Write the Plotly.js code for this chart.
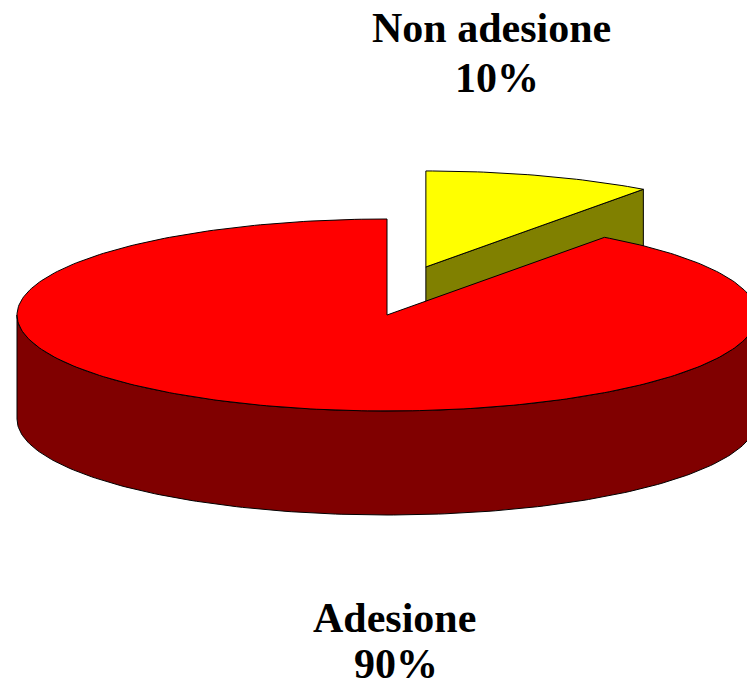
<!DOCTYPE html>
<html>
<head>
<meta charset="utf-8">
<script src="https://cdn.plot.ly/plotly-3.0.1.min.js"></script>
<style>
  html, body { margin: 0; padding: 0; background: #ffffff; }
  #chart { width: 747px; height: 690px; }
</style>
</head>
<body>
<div id="chart"></div>
<script>
// ---- data ----
const labels = ['Non adesione', 'Adesione'];
const values = [10, 90];
const pctLabels = ['10%', '90%'];
const topColors = ['#FFFF00', '#FF0000'];
const sideColors = ['#808000', '#800000'];

// ---- geometry / style (pixel space) ----
const W = 747, H = 690;
const CX = 387, CY = 315, RX = 370, RY = 96, DEPTH = 104;
const explode = [0.34, 0];   // fraction of radius along bisector
const lift = [17, 0];        // extra vertical lift (px)
const labelPos = [
  { name: [491, 27.5], pct: [497, 78] },
  { name: [394, 617.5], pct: [396, 663.5] }
];

const deg = Math.PI / 180;
function pt(a, ox, oy, dz) {
  return [CX + ox + RX * Math.sin(a * deg), CY + oy - RY * Math.cos(a * deg) + (dz || 0)];
}
function arc(a0, a1, ox, oy, dz) {
  const pts = [];
  const n = Math.max(2, Math.ceil(Math.abs(a1 - a0)));
  for (let i = 0; i <= n; i++) pts.push(pt(a0 + (a1 - a0) * i / n, ox, oy, dz));
  return pts;
}
function poly(pts, fill) {
  return {
    type: 'scatter', mode: 'lines',
    x: pts.map(p => p[0]).concat([pts[0][0]]),
    y: pts.map(p => p[1]).concat([pts[0][1]]),
    fill: 'toself', fillcolor: fill,
    line: { color: '#000000', width: 1 },
    hoverinfo: 'skip', showlegend: false
  };
}

const total = values.reduce((s, v) => s + v, 0);
let cum = 0;
const slices = values.map((v, i) => {
  const a0 = cum / total * 360;
  cum += v;
  const a1 = cum / total * 360;
  const mid = (a0 + a1) / 2;
  const ox = explode[i] * RX * Math.sin(mid * deg);
  const oy = -explode[i] * RY * Math.cos(mid * deg) - lift[i];
  return { i, a0, a1, mid, ox, oy };
});
// far slices first
slices.sort((p, q) => Math.cos(q.mid * deg) - Math.cos(p.mid * deg));

const traces = [];
slices.forEach(s => {
  const c = [CX + s.ox, CY + s.oy];
  const cb = [c[0], c[1] + DEPTH];
  // cut face at start angle
  if (Math.sin(s.a0 * deg) < -1e-9) {
    const t = pt(s.a0, s.ox, s.oy), b = pt(s.a0, s.ox, s.oy, DEPTH);
    traces.push(poly([c, t, b, cb], sideColors[s.i]));
  }
  // cut face at end angle
  if (Math.sin(s.a1 * deg) > 1e-9) {
    const t = pt(s.a1, s.ox, s.oy), b = pt(s.a1, s.ox, s.oy, DEPTH);
    traces.push(poly([c, t, b, cb], sideColors[s.i]));
  }
  // outer wall (front half)
  const w0 = Math.max(s.a0, 90), w1 = Math.min(s.a1, 270);
  if (w1 > w0) {
    const topA = arc(w0, w1, s.ox, s.oy, 0);
    const botA = arc(w1, w0, s.ox, s.oy, DEPTH);
    traces.push(poly(topA.concat(botA), sideColors[s.i]));
  }
  // top face
  traces.push(poly([c].concat(arc(s.a0, s.a1, s.ox, s.oy, 0)), topColors[s.i]));
});

const font = { family: 'Liberation Serif, Times New Roman, serif', size: 42, color: '#000000' };
const annotations = [];
labels.forEach((lab, i) => {
  annotations.push({ x: labelPos[i].name[0], y: labelPos[i].name[1], xref: 'x', yref: 'y',
    text: '<b>' + lab + '</b>', showarrow: false, font: font, xanchor: 'center', yanchor: 'middle' });
  annotations.push({ x: labelPos[i].pct[0], y: labelPos[i].pct[1], xref: 'x', yref: 'y',
    text: '<b>' + pctLabels[i] + '</b>', showarrow: false, font: font, xanchor: 'center', yanchor: 'middle' });
});

const layout = {
  width: W, height: H,
  margin: { l: 0, r: 0, t: 0, b: 0, pad: 0 },
  paper_bgcolor: '#ffffff', plot_bgcolor: '#ffffff',
  xaxis: { range: [0, W], visible: false, fixedrange: true },
  yaxis: { range: [H, 0], visible: false, fixedrange: true },
  showlegend: false,
  annotations: annotations
};

Plotly.newPlot('chart', traces, layout, { staticPlot: true, displayModeBar: false });
</script>
</body>
</html>
